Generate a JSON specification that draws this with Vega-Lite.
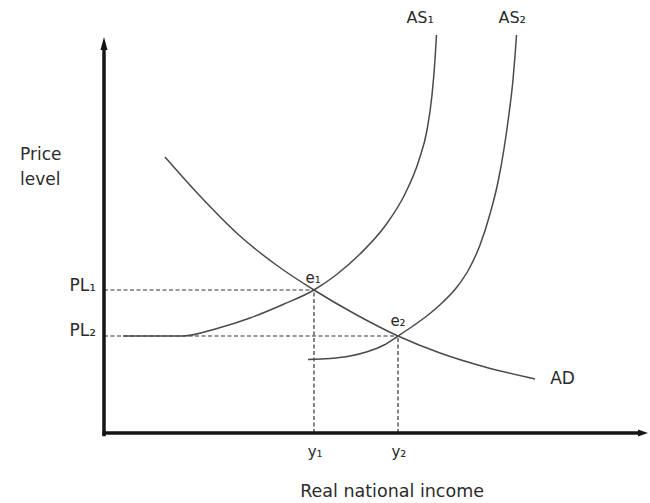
{
  "$schema": "https://vega.github.io/schema/vega-lite/v6.json",
  "description": "Aggregate demand and a rightward shift of aggregate supply (AS1 to AS2) in price level / real national income space.",
  "width": 650,
  "height": 503,
  "autosize": {"type": "fit", "contains": "padding"},
  "padding": 0,
  "background": "#ffffff",
  "config": {"view": {"stroke": null}},
  "datasets": {
    "curves": [
      {"curve": "AD", "i": 1, "income": 11.73, "price": 55.2},
      {"curve": "AD", "i": 2, "income": 18.46, "price": 47.4},
      {"curve": "AD", "i": 3, "income": 26.15, "price": 39.4},
      {"curve": "AD", "i": 4, "income": 33.27, "price": 33.5},
      {"curve": "AD", "i": 5, "income": 40.38, "price": 28.6},
      {"curve": "AD", "i": 6, "income": 48.27, "price": 23.8},
      {"curve": "AD", "i": 7, "income": 56.54, "price": 19.4},
      {"curve": "AD", "i": 8, "income": 64.62, "price": 16.0},
      {"curve": "AD", "i": 9, "income": 73.27, "price": 13.2},
      {"curve": "AD", "i": 10, "income": 82.88, "price": 10.8},
      {"curve": "AS1", "i": 1, "income": 3.65, "price": 19.4},
      {"curve": "AS1", "i": 2, "income": 15.19, "price": 19.4},
      {"curve": "AS1", "i": 3, "income": 21.73, "price": 20.9},
      {"curve": "AS1", "i": 4, "income": 28.08, "price": 23.0},
      {"curve": "AS1", "i": 5, "income": 34.42, "price": 25.7},
      {"curve": "AS1", "i": 6, "income": 40.38, "price": 28.6},
      {"curve": "AS1", "i": 7, "income": 44.62, "price": 31.6},
      {"curve": "AS1", "i": 8, "income": 49.23, "price": 35.8},
      {"curve": "AS1", "i": 9, "income": 54.04, "price": 41.4},
      {"curve": "AS1", "i": 10, "income": 57.88, "price": 47.8},
      {"curve": "AS1", "i": 11, "income": 60.58, "price": 54.6},
      {"curve": "AS1", "i": 12, "income": 62.12, "price": 60.6},
      {"curve": "AS1", "i": 13, "income": 63.08, "price": 67.6},
      {"curve": "AS1", "i": 14, "income": 63.65, "price": 74.6},
      {"curve": "AS1", "i": 15, "income": 63.94, "price": 79.6},
      {"curve": "AS2", "i": 1, "income": 39.23, "price": 14.7},
      {"curve": "AS2", "i": 2, "income": 43.46, "price": 14.9},
      {"curve": "AS2", "i": 3, "income": 47.31, "price": 15.4},
      {"curve": "AS2", "i": 4, "income": 50.77, "price": 16.3},
      {"curve": "AS2", "i": 5, "income": 53.85, "price": 17.6},
      {"curve": "AS2", "i": 6, "income": 56.54, "price": 19.4},
      {"curve": "AS2", "i": 7, "income": 59.42, "price": 21.4},
      {"curve": "AS2", "i": 8, "income": 62.31, "price": 23.6},
      {"curve": "AS2", "i": 9, "income": 65.19, "price": 26.2},
      {"curve": "AS2", "i": 10, "income": 67.88, "price": 29.2},
      {"curve": "AS2", "i": 11, "income": 70.19, "price": 32.8},
      {"curve": "AS2", "i": 12, "income": 72.31, "price": 37.6},
      {"curve": "AS2", "i": 13, "income": 74.23, "price": 43.8},
      {"curve": "AS2", "i": 14, "income": 75.77, "price": 50.2},
      {"curve": "AS2", "i": 15, "income": 76.92, "price": 56.8},
      {"curve": "AS2", "i": 16, "income": 77.88, "price": 63.8},
      {"curve": "AS2", "i": 17, "income": 78.65, "price": 70.6},
      {"curve": "AS2", "i": 18, "income": 79.04, "price": 75.4},
      {"curve": "AS2", "i": 19, "income": 79.33, "price": 79.6}
    ],
    "guides": [
      {"x": 0, "x2": 40.38, "y": 28.6, "y2": 28.6},
      {"x": 0, "x2": 56.54, "y": 19.4, "y2": 19.4},
      {"x": 40.38, "x2": 40.38, "y": 0, "y2": 28.6},
      {"x": 56.54, "x2": 56.54, "y": 0, "y2": 19.4}
    ],
    "axes": [
      {"x": 0, "x2": 102.6, "y": 0, "y2": 0},
      {"x": 0, "x2": 0, "y": -0.3, "y2": 76.8}
    ],
    "arrows": [
      {"dir": "right", "x": 103.65, "y": 0},
      {"dir": "up", "x": 0, "y": 77.9}
    ],
    "labels": [
      {"role": "left", "text": "Price", "x": -16.15, "y": 55.6},
      {"role": "left", "text": "level", "x": -16.15, "y": 50.6},
      {"role": "left", "text": "AD", "x": 85.8, "y": 10.8},
      {"role": "right", "text": "PL₁", "x": -1.54, "y": 29.4},
      {"role": "right", "text": "PL₂", "x": -1.54, "y": 20.4},
      {"role": "title", "text": "Real national income", "x": 55.4, "y": -11.8},
      {"role": "curve", "text": "AS₁", "x": 60.8, "y": 83.0},
      {"role": "curve", "text": "AS₂", "x": 78.5, "y": 83.0},
      {"role": "point", "text": "e₁", "x": 40.2, "y": 31.0},
      {"role": "point", "text": "e₂", "x": 56.54, "y": 22.5},
      {"role": "point", "text": "y₁", "x": 40.6, "y": -3.8},
      {"role": "point", "text": "y₂", "x": 56.7, "y": -3.8}
    ]
  },
  "layer": [
    {
      "data": {"name": "guides"},
      "mark": {"type": "rule", "stroke": "#333333", "strokeWidth": 1.2, "strokeDash": [4, 2.5]},
      "encoding": {
        "x": {"field": "x", "type": "quantitative", "scale": {"domain": [-20, 105], "nice": false, "zero": false}, "axis": null},
        "x2": {"field": "x2"},
        "y": {"field": "y", "type": "quantitative", "scale": {"domain": [-14, 86.6], "nice": false, "zero": false}, "axis": null},
        "y2": {"field": "y2"}
      }
    },
    {
      "data": {"name": "curves"},
      "mark": {"type": "line", "interpolate": "monotone", "stroke": "#4a4a4a", "strokeWidth": 1.5},
      "encoding": {
        "x": {"field": "income", "type": "quantitative", "scale": {"domain": [-20, 105], "nice": false, "zero": false}, "axis": null},
        "y": {"field": "price", "type": "quantitative", "scale": {"domain": [-14, 86.6], "nice": false, "zero": false}, "axis": null},
        "detail": {"field": "curve"},
        "order": {"field": "i", "type": "quantitative"}
      }
    },
    {
      "data": {"name": "axes"},
      "mark": {"type": "rule", "stroke": "#161616", "strokeWidth": 3.5, "strokeCap": "square"},
      "encoding": {
        "x": {"field": "x", "type": "quantitative", "scale": {"domain": [-20, 105], "nice": false, "zero": false}, "axis": null},
        "x2": {"field": "x2"},
        "y": {"field": "y", "type": "quantitative", "scale": {"domain": [-14, 86.6], "nice": false, "zero": false}, "axis": null},
        "y2": {"field": "y2"}
      }
    },
    {
      "data": {"name": "arrows"},
      "mark": {"type": "point", "filled": true, "fill": "#161616", "strokeWidth": 0, "opacity": 1},
      "encoding": {
        "x": {"field": "x", "type": "quantitative", "scale": {"domain": [-20, 105], "nice": false, "zero": false}, "axis": null},
        "y": {"field": "y", "type": "quantitative", "scale": {"domain": [-14, 86.6], "nice": false, "zero": false}, "axis": null},
        "shape": {
          "field": "dir",
          "type": "nominal",
          "scale": {"domain": ["right", "up"], "range": ["M1,0L-1,-0.7L-1,0.7Z", "M0,-1L0.54,1L-0.54,1Z"]},
          "legend": null
        },
        "size": {"field": "dir", "type": "nominal", "scale": {"domain": ["right", "up"], "range": [100, 169]}, "legend": null}
      }
    },
    {
      "data": {"name": "labels"},
      "transform": [{"filter": "datum.role === 'left'"}],
      "mark": {"type": "text", "align": "left", "baseline": "middle", "font": "DejaVu Sans", "fontSize": 17, "fill": "#2b2b2b"},
      "encoding": {
        "x": {"field": "x", "type": "quantitative", "scale": {"domain": [-20, 105], "nice": false, "zero": false}, "axis": null},
        "y": {"field": "y", "type": "quantitative", "scale": {"domain": [-14, 86.6], "nice": false, "zero": false}, "axis": null},
        "text": {"field": "text"}
      }
    },
    {
      "data": {"name": "labels"},
      "transform": [{"filter": "datum.role === 'right'"}],
      "mark": {"type": "text", "align": "right", "baseline": "middle", "font": "DejaVu Sans", "fontSize": 17, "fill": "#2b2b2b"},
      "encoding": {
        "x": {"field": "x", "type": "quantitative", "scale": {"domain": [-20, 105], "nice": false, "zero": false}, "axis": null},
        "y": {"field": "y", "type": "quantitative", "scale": {"domain": [-14, 86.6], "nice": false, "zero": false}, "axis": null},
        "text": {"field": "text"}
      }
    },
    {
      "data": {"name": "labels"},
      "transform": [{"filter": "datum.role === 'title'"}],
      "mark": {"type": "text", "align": "center", "baseline": "middle", "font": "DejaVu Sans", "fontSize": 17.5, "fill": "#2b2b2b"},
      "encoding": {
        "x": {"field": "x", "type": "quantitative", "scale": {"domain": [-20, 105], "nice": false, "zero": false}, "axis": null},
        "y": {"field": "y", "type": "quantitative", "scale": {"domain": [-14, 86.6], "nice": false, "zero": false}, "axis": null},
        "text": {"field": "text"}
      }
    },
    {
      "data": {"name": "labels"},
      "transform": [{"filter": "datum.role === 'curve'"}],
      "mark": {"type": "text", "align": "center", "baseline": "middle", "font": "DejaVu Sans", "fontSize": 16, "fill": "#2b2b2b"},
      "encoding": {
        "x": {"field": "x", "type": "quantitative", "scale": {"domain": [-20, 105], "nice": false, "zero": false}, "axis": null},
        "y": {"field": "y", "type": "quantitative", "scale": {"domain": [-14, 86.6], "nice": false, "zero": false}, "axis": null},
        "text": {"field": "text"}
      }
    },
    {
      "data": {"name": "labels"},
      "transform": [{"filter": "datum.role === 'point'"}],
      "mark": {"type": "text", "align": "center", "baseline": "middle", "font": "DejaVu Sans", "fontSize": 15, "fill": "#2b2b2b"},
      "encoding": {
        "x": {"field": "x", "type": "quantitative", "scale": {"domain": [-20, 105], "nice": false, "zero": false}, "axis": null},
        "y": {"field": "y", "type": "quantitative", "scale": {"domain": [-14, 86.6], "nice": false, "zero": false}, "axis": null},
        "text": {"field": "text"}
      }
    }
  ]
}
